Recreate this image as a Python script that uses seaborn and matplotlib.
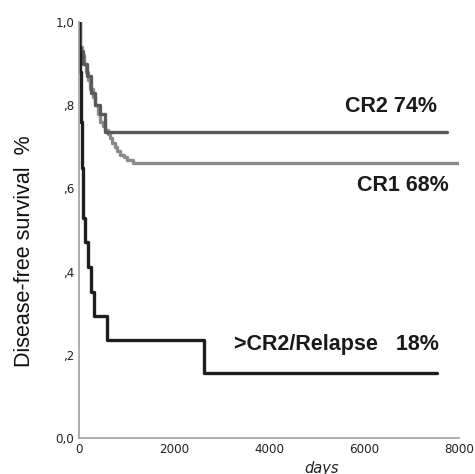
import numpy as np
import pandas as pd
import matplotlib
matplotlib.use("Agg")
import matplotlib.pyplot as plt
import seaborn as sns

# Data (Kaplan-Meier steps)
relapse_days = [0, 10, 25, 35, 45, 55, 65, 75, 84, 126, 190, 253, 316, 590, 2630, 7530]
relapse_surv = [1.0, 0.94, 0.88, 0.82, 0.76, 0.71, 0.65, 0.59, 0.53, 0.47, 0.41, 0.35, 0.294, 0.235, 0.156, 0.156]

cr2_days = [0, 15, 80, 170, 250, 340, 440, 550, 7750]
cr2_surv = [1.0, 0.93, 0.90, 0.87, 0.83, 0.80, 0.78, 0.736, 0.736]

cr1_days = [0, 20, 60, 100, 140, 190, 240, 290, 337, 390, 442, 500, 547, 600, 653, 700, 758, 810, 863, 940, 1010, 1137, 8020]
cr1_surv = [1.0, 0.94, 0.92, 0.90, 0.88, 0.86, 0.84, 0.82, 0.80, 0.78, 0.76, 0.75, 0.74, 0.73, 0.72, 0.71, 0.70, 0.69, 0.68, 0.675, 0.668, 0.661, 0.661]

labels = ["CR2 74%", "CR1 68%", ">CR2/Relapse   18%"]
y_ticks = [0.0, 0.2, 0.4, 0.6, 0.8, 1.0]
y_ticklabels = ["0,0", ",2", ",4", ",6", ",8", "1,0"]
x_ticks = [0, 2000, 4000, 6000, 8000]

df = pd.concat([
    pd.DataFrame({"days": cr1_days, "surv": cr1_surv, "group": "CR1"}),
    pd.DataFrame({"days": cr2_days, "surv": cr2_surv, "group": "CR2"}),
    pd.DataFrame({"days": relapse_days, "surv": relapse_surv, "group": "Relapse"}),
], ignore_index=True)

sns.set_style("white")
plt.rcParams['font.family'] = ['DejaVu Sans']

fig = plt.figure(figsize=(4.75, 4.74), dpi=100)
ax = fig.add_axes([79/475, 1-438/474, 380/475, 416/474])

palette = {"CR1": "#8a8a8a", "CR2": "#5a5a5a", "Relapse": "#1e1e1e"}
sns.lineplot(data=df, x="days", y="surv", hue="group", palette=palette,
             drawstyle="steps-post", estimator=None, sort=False, legend=False,
             linewidth=2.4, ax=ax)

ax.set_xlim(0, 8000)
ax.set_ylim(0, 1.0)
ax.set_xticks(x_ticks)
ax.set_xticklabels([str(t) for t in x_ticks], fontsize=8.6, color="#222222")
ax.set_yticks(y_ticks)
ax.set_yticklabels(y_ticklabels, fontsize=8.6, color="#222222")
for s in ["top", "right"]:
    ax.spines[s].set_visible(False)
for s in ["left", "bottom"]:
    ax.spines[s].set_color("#a0a0a0")
    ax.spines[s].set_linewidth(1.2)
ax.tick_params(axis="both", direction="out", length=2.5, width=1.2, color="#333333", pad=1)

ax.set_xlabel("days", fontsize=10.5, fontstyle="italic", color="#222222")
ax.xaxis.set_label_coords((322 - 79) / 380, -(468 - 438) / 416)
ax.xaxis.label.set_va("center")
ax.set_ylabel("Disease-free survival  %", fontsize=15.5, family="Liberation Sans", color="#111111")
ax.yaxis.set_label_coords((25 - 79) / 380, (438 - 251) / 416)
ax.yaxis.label.set_va("center")

tf = dict(fontsize=15.5, fontweight="bold", family="Liberation Sans", color="#1a1a1a", ha="right", va="center")
ax.text(7537, 0.796, labels[0], **tf)
ax.text(7790, 0.607, labels[1], **tf)
ax.text(7579, 0.224, labels[2], **tf)

fig.savefig("out.png", dpi=100)
